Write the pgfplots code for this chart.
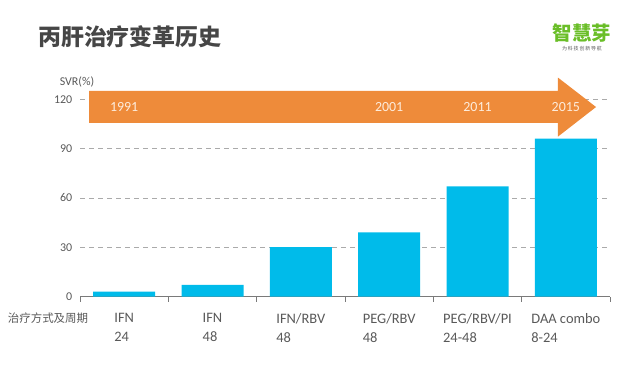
\documentclass[border=0pt]{standalone}
\usepackage{pgfplots}
\pgfplotsset{compat=1.18}
\usepackage{fontspec}
\setmainfont{Carlito}
\newfontfamily\cjk{Noto Sans CJK SC}
\definecolor{barblue}{RGB}{0,187,234}
\definecolor{arrowc}{RGB}{238,139,58}
\definecolor{yearc}{RGB}{253,236,220}
\definecolor{txt}{RGB}{89,89,89}
\definecolor{gridc}{RGB}{170,170,170}
\definecolor{titlec}{RGB}{70,70,70}
\definecolor{logoc}{RGB}{106,190,40}
\begin{document}
\begin{tikzpicture}
\path[use as bounding box] (0,0) rectangle (640bp,371bp);
\begin{axis}[
  at={(80bp,74.5bp)}, anchor=south west,
  scale only axis, width=530bp, height=197.2bp,
  xmin=-0.5, xmax=5.5, ymin=0, ymax=120,
  clip=false,
  axis lines*=left,
  y axis line style={draw=none},
  x axis line style={draw=txt!80, line width=0.8pt},
  ytick={0,30,60,90,120},
  ymajorgrids,
  grid style={draw=gridc, dash pattern=on 5bp off 4bp, line width=0.6pt},
  ytick style={draw=none},
  yticklabel style={text=txt, font=\fontsize{12}{14}\selectfont},
  /pgf/number format/assume math mode=true,
  xtick={0,1,2,3,4,5},
  xticklabels={{IFN\\24},{IFN\\48},{IFN/RBV\\48},{PEG/RBV\\48},{PEG/RBV/PI\\24-48},{DAA combo\\8-24}},
  xticklabel style={align=left, text=txt, font=\fontsize{14.5}{19.5}\selectfont, anchor=north, yshift=-9bp},
  major x tick style={draw=none},
  minor xtick={-0.5,0.5,1.5,2.5,3.5,4.5,5.5},
  minor x tick style={draw=txt!80, line width=0.8pt},
  minor tick length=5bp,
  tick align=outside,
]
\addplot[ybar, bar width=62bp, fill=barblue, draw=none] coordinates {(0,3) (1,7) (2,30) (3,39) (4,67) (5,96)};
\fill[arrowc] (axis cs:-0.398,125.1) -- (axis cs:4.911,125.1) -- (axis cs:4.911,133.2) -- (axis cs:5.342,115.3) -- (axis cs:4.911,97.3) -- (axis cs:4.911,105.6) -- (axis cs:-0.398,105.6) -- cycle;
\node[text=yearc, font=\fontsize{14}{16}\selectfont] at (axis cs:0,115.3) {1991};
\node[text=yearc, font=\fontsize{14}{16}\selectfont] at (axis cs:3,115.3) {2001};
\node[text=yearc, font=\fontsize{14}{16}\selectfont] at (axis cs:4,115.3) {2011};
\node[text=yearc, font=\fontsize{14}{16}\selectfont] at (axis cs:5,115.3) {2015};
\end{axis}
\node[anchor=west, text=titlec, font=\cjk\bfseries\fontsize{23}{26}\selectfont, inner sep=0pt] at (38bp,334bp) {丙肝治疗变革历史};
\node[text=txt, font=\fontsize{12}{14}\selectfont, inner sep=0pt] at (77bp,289.5bp) {SVR(\%)};
\node[text=txt, font=\cjk\fontsize{11.5}{13}\selectfont, inner sep=0pt] at (48bp,53bp) {治疗方式及周期};
\node[text=logoc, font=\cjk\bfseries\fontsize{19.5}{22}\selectfont, inner sep=0pt] at (582bp,338bp) {智慧芽};
\node[text=txt, font=\cjk\fontsize{5}{6}\selectfont, inner sep=0pt] at (582bp,322.5bp) {为\,科\,技\,创\,新\,导\,航};
\end{tikzpicture}
\end{document}
